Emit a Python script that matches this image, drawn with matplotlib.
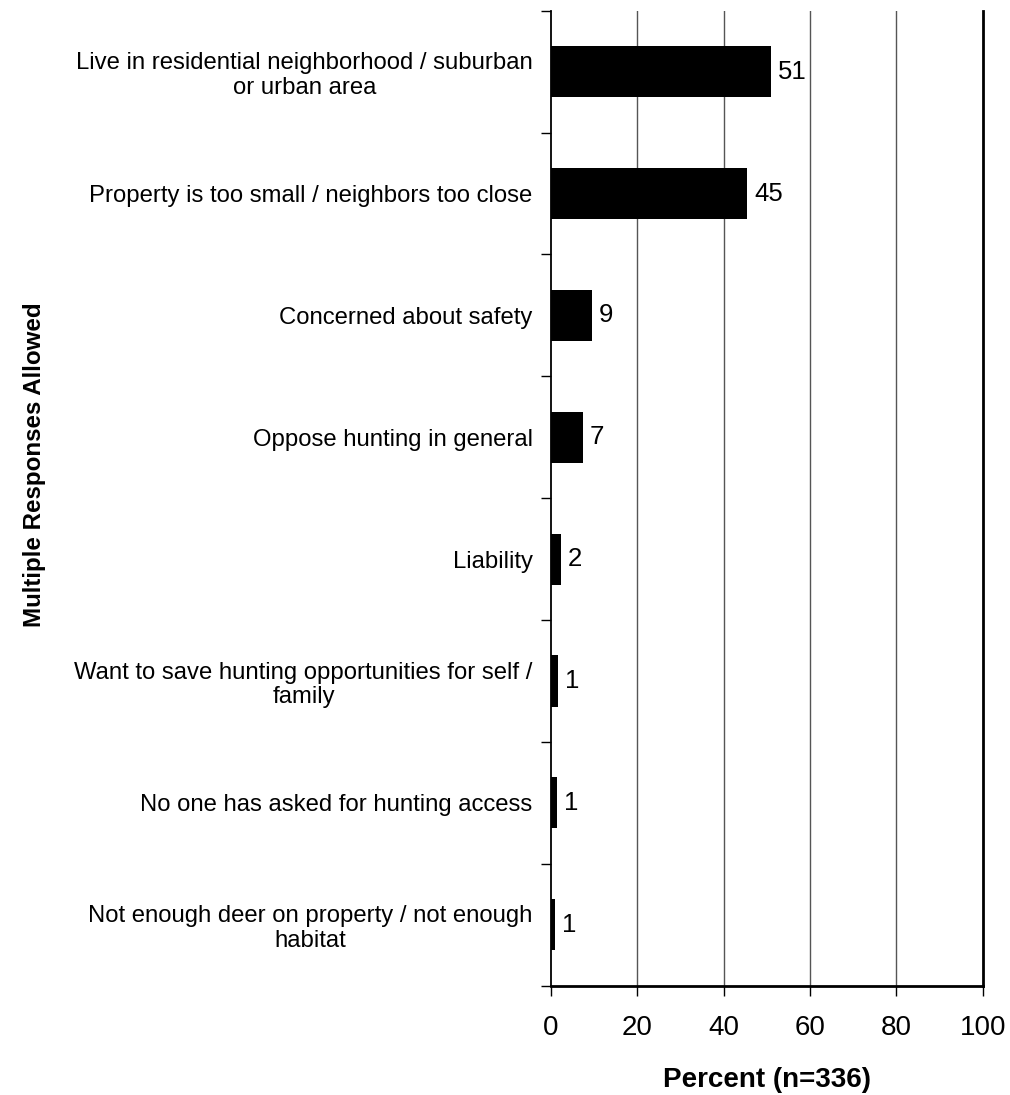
import matplotlib
matplotlib.use("Agg")
import matplotlib.pyplot as plt
import numpy as np

plt.rcParams['font.family'] = ['Liberation Sans', 'DejaVu Sans']

categories = [
    "Live in residential neighborhood / suburban\nor urban area",
    "Property is too small / neighbors too close",
    "Concerned about safety",
    "Oppose hunting in general",
    "Liability",
    "Want to save hunting opportunities for self /\nfamily",
    "No one has asked for hunting access",
    "Not enough deer on property / not enough\nhabitat",
]
values = [51.0, 45.5, 9.5, 7.4, 2.3, 1.7, 1.5, 0.9]
value_labels = ["51", "45", "9", "7", "2", "1", "1", "1"]
xticks = [0, 20, 40, 60, 80, 100]

DPI = 100
fig = plt.figure(figsize=(10.10, 10.95), dpi=DPI)
W, H = 1010, 1095
left, right, top, bottom = 550.7, 982.7, 10.7, 985.7
ax = fig.add_axes([left / W, 1 - bottom / H, (right - left) / W, (bottom - top) / H])

y = np.arange(len(categories))
ax.barh(y, values, height=0.42, color='black', zorder=3)

ax.set_xlim(0, 100)
ax.set_ylim(len(categories) - 0.5, -0.5)

ax.set_xticks(xticks)
ax.set_xticklabels([str(t) for t in xticks], fontsize=20)
ax.tick_params(axis='x', direction='out', length=7, width=1, pad=14, colors='black')

ax.set_yticks(y)
ax.set_yticklabels(categories, fontsize=17.2, linespacing=1.15)
for lbl in ax.get_yticklabels():
    lbl.set_multialignment('center')
ax.tick_params(axis='y', which='major', length=0, pad=13)
ax.set_yticks(np.arange(len(categories) + 1) - 0.5, minor=True)
ax.tick_params(axis='y', which='minor', length=7, width=1, direction='out')

for xv in xticks[1:-1]:
    ax.axvline(xv, color='#555555', lw=1.0, zorder=1)

ax.spines['top'].set_visible(False)
ax.spines['left'].set_linewidth(1.3)
ax.spines['bottom'].set_linewidth(2.0)
ax.spines['right'].set_linewidth(2.0)

for yi, v, lab in zip(y, values, value_labels):
    ax.annotate(lab, (v, yi), xytext=(5, 0), textcoords='offset points',
                va='center', ha='left', fontsize=18.5)

ax.set_xlabel("Percent (n=336)", fontsize=20, fontweight='bold', labelpad=19)
fig.text(35 / W, 1 - 465 / H, "Multiple Responses Allowed", rotation=90,
         fontsize=17.4, fontweight='bold', ha='center', va='center')

fig.savefig("out.png", dpi=DPI)
